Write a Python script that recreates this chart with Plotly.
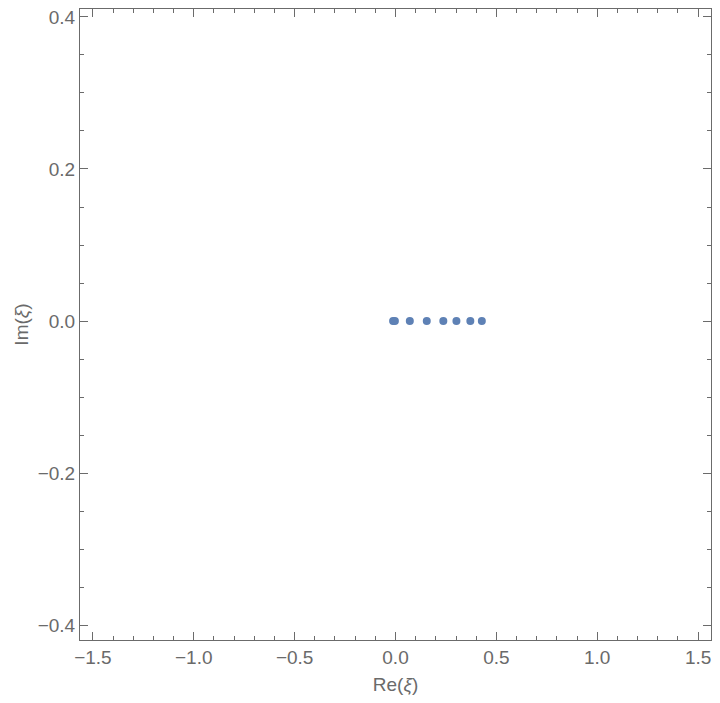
import plotly.graph_objects as go

# Locations of the roots in the complex plane
re_xi = [-0.012, -0.003, 0.071, 0.155, 0.237, 0.302, 0.371, 0.428]
im_xi = [0.0, 0.0, 0.0, 0.0, 0.0, 0.0, 0.0, 0.0]

x_ticks = [-1.5, -1.0, -0.5, 0.0, 0.5, 1.0, 1.5]
x_labels = ["\u22121.5", "\u22121.0", "\u22120.5", "0.0", "0.5", "1.0", "1.5"]
y_ticks = [-0.4, -0.2, 0.0, 0.2, 0.4]
y_labels = ["\u22120.4", "\u22120.2", "0.0", "0.2", "0.4"]

frame_color = "#6b6b6b"
font = dict(family="Liberation Sans, Arial", size=19, color="#6a6a6a")

fig = go.Figure()
fig.add_trace(
    go.Scatter(
        x=re_xi,
        y=im_xi,
        mode="markers",
        marker=dict(color="#5E81B5", size=8),
        showlegend=False,
    )
)

axis_common = dict(
    showgrid=False,
    zeroline=False,
    showline=True,
    linecolor=frame_color,
    linewidth=1,
    mirror="allticks",
    ticks="inside",
    ticklen=8,
    tickcolor=frame_color,
    tickfont=font,
    ticklabeloverflow="allow",
    automargin=False,
)

fig.update_xaxes(
    range=[-1.564, 1.564],
    tickvals=x_ticks,
    ticktext=x_labels,
    minor=dict(ticks="inside", dtick=0.1, tick0=0, ticklen=4, tickcolor=frame_color),
    title=dict(text="Re(<i>\u03be</i>)", font=font, standoff=10),
    **axis_common,
)
fig.update_yaxes(
    range=[-0.4197, 0.4105],
    tickvals=y_ticks,
    ticktext=y_labels,
    minor=dict(ticks="inside", dtick=0.05, tick0=0, ticklen=4, tickcolor=frame_color),
    title=dict(text="Im(<i>\u03be</i>)", font=font, standoff=4),
    **axis_common,
)

# the page body adds an 8px offset, so the figure is sized to fit the window
fig.update_layout(
    width=704,
    height=687,
    margin=dict(l=72, r=1, t=1, b=55),
    plot_bgcolor="white",
    paper_bgcolor="white",
)

fig.write_html("out.html")
